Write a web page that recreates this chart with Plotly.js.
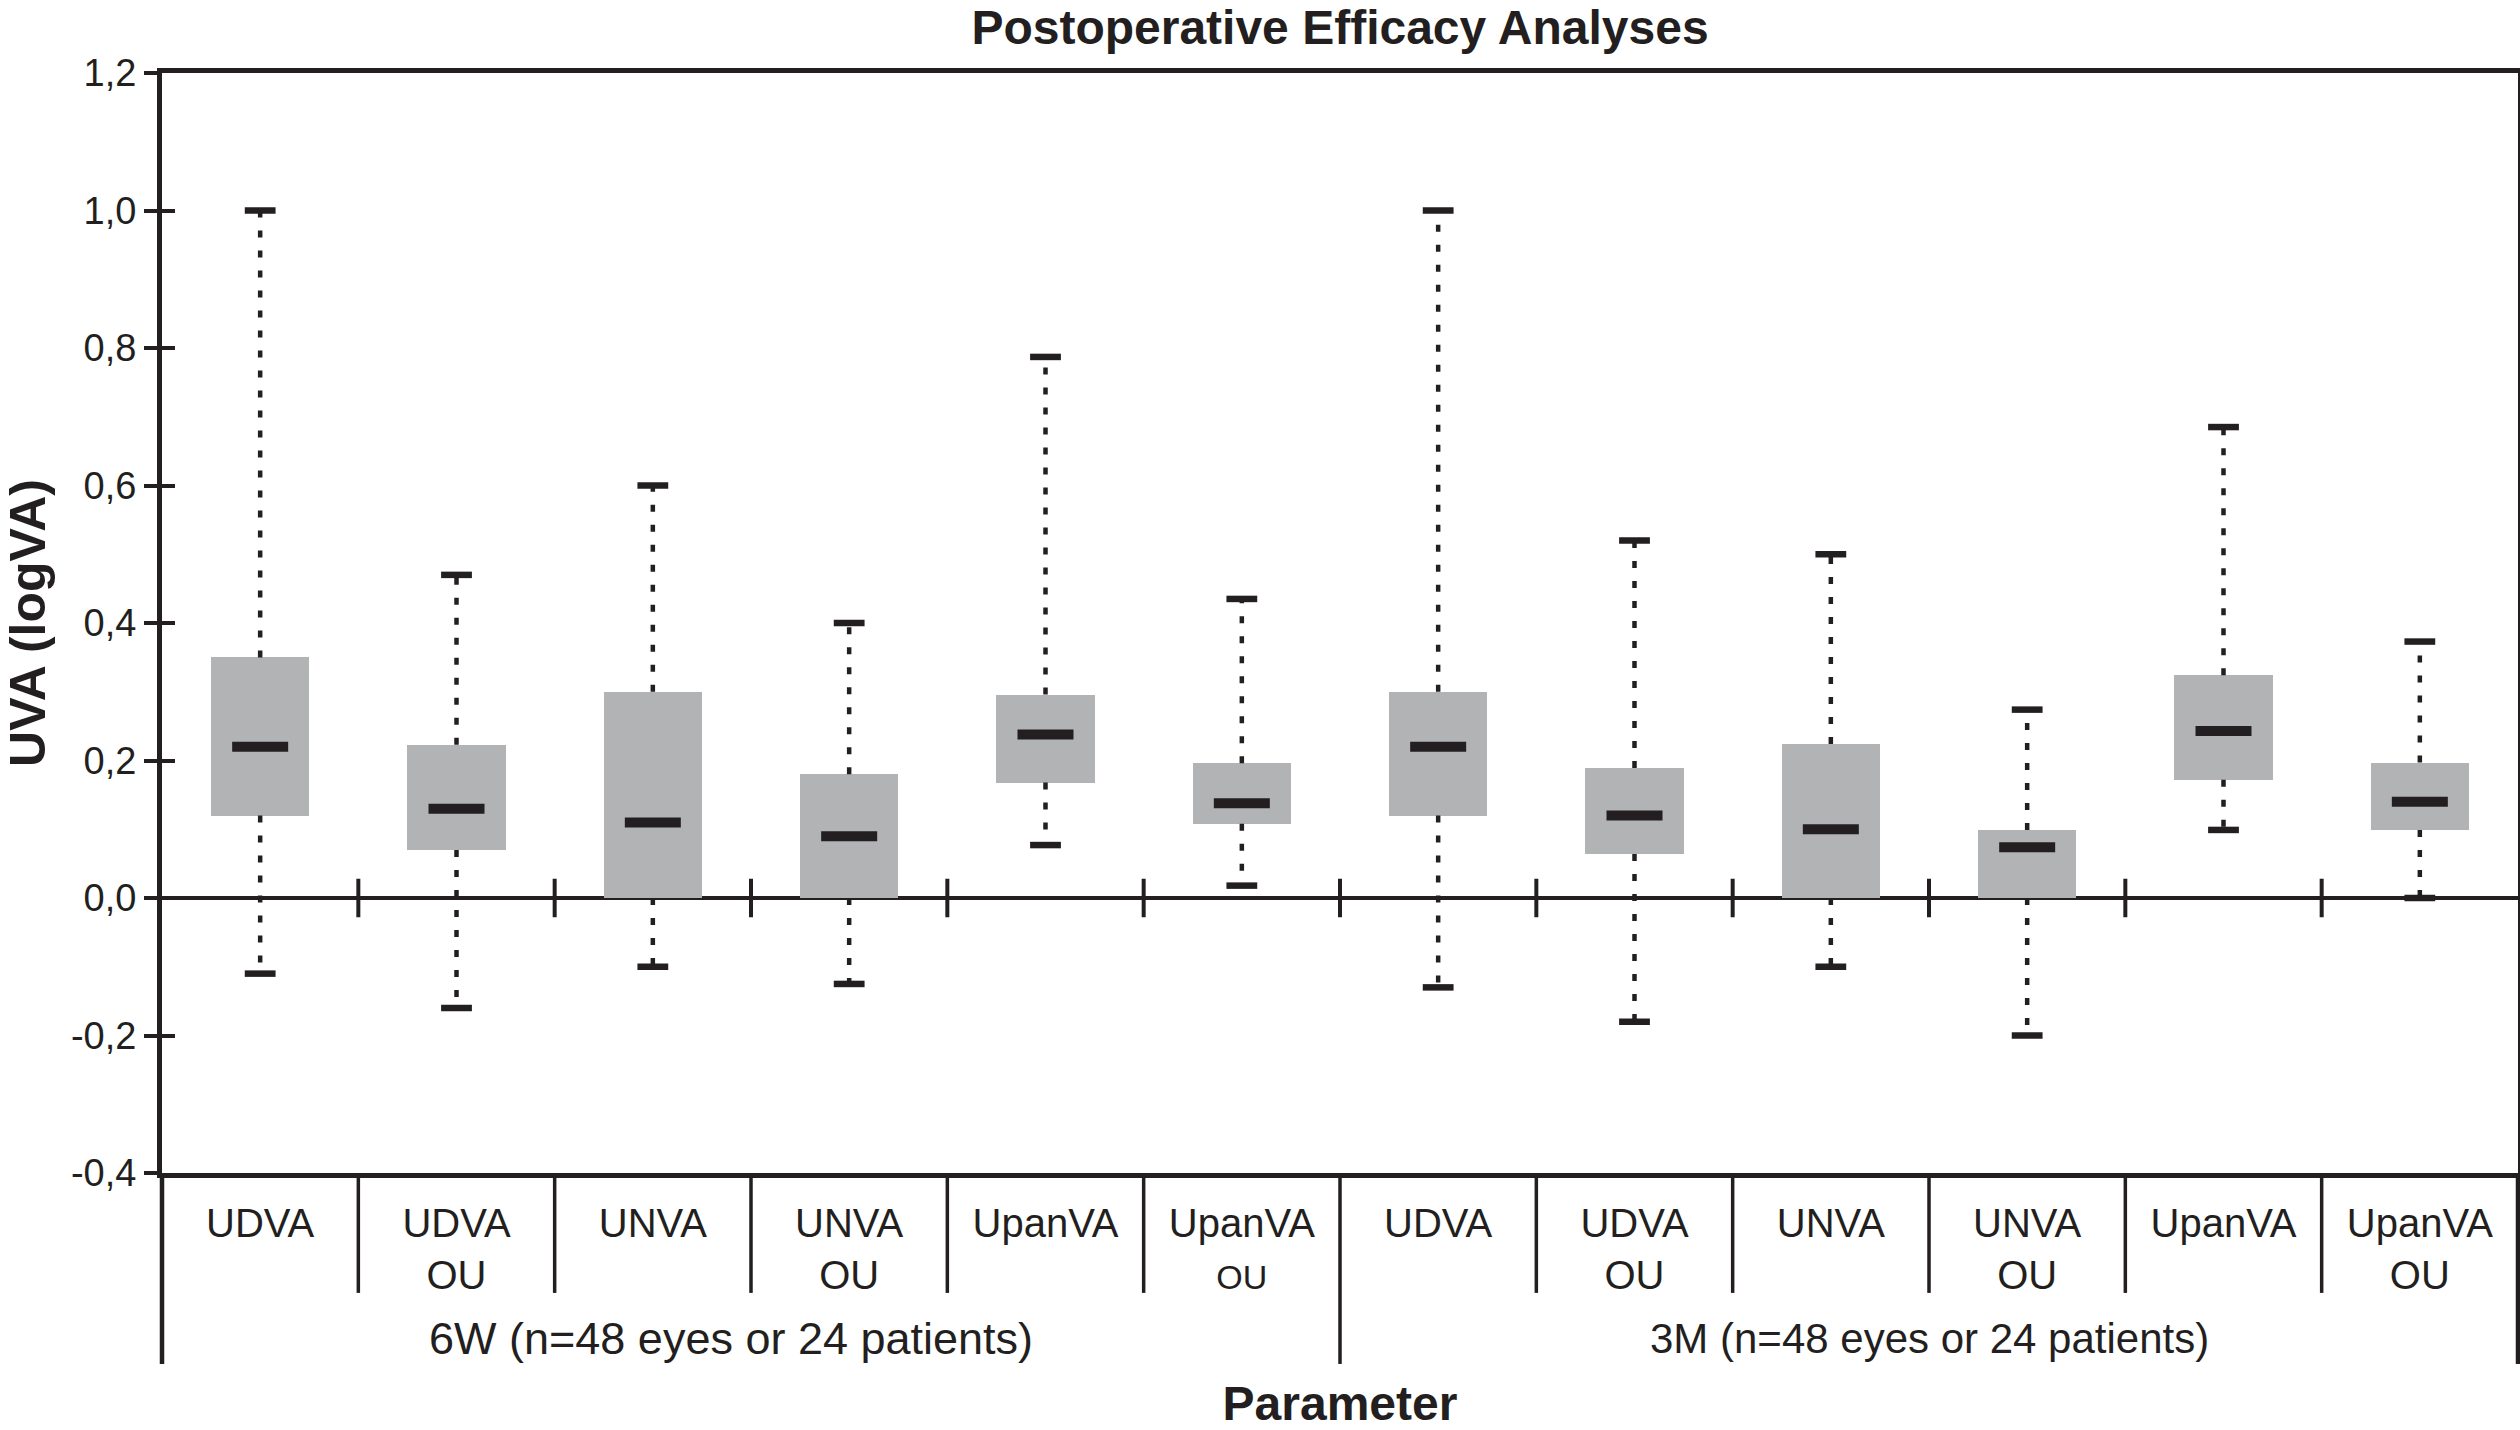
<!DOCTYPE html>
<html>
<head>
<meta charset="utf-8">
<script src="https://cdn.plot.ly/plotly-3.0.1.min.js"></script>
<style>html,body{margin:0;padding:0;background:#fff;}#chart{width:2520px;height:1430px;}</style>
</head>
<body>
<div id="chart"></div>
<script>
// ---- Data ----
const categories = ["UDVA", "UDVA<br>OU", "UNVA", "UNVA<br>OU", "UpanVA", "UpanVA<br><span style='font-size:34px'>OU</span>",
                    "UDVA", "UDVA<br>OU", "UNVA", "UNVA<br>OU", "UpanVA", "UpanVA<br>OU"];
const groups = ["6W (n=48 eyes or 24 patients)", "3M (n=48 eyes or 24 patients)"];
const minVals = [-0.11, -0.16, -0.10, -0.125, 0.077, 0.018, -0.13, -0.18, -0.10, -0.20, 0.099, 0.000];
const q1Vals  = [ 0.12,  0.07,  0.00,  0.00,  0.168, 0.108,  0.12,  0.064, 0.00,  0.00,  0.172, 0.099];
const medVals = [ 0.22,  0.13,  0.11,  0.09,  0.238, 0.138,  0.22,  0.12,  0.10,  0.074, 0.243, 0.140];
const q3Vals  = [ 0.35,  0.223, 0.30,  0.18,  0.296, 0.196,  0.30,  0.189, 0.224, 0.099, 0.324, 0.197];
const maxVals = [ 1.00,  0.47,  0.60,  0.40,  0.787, 0.435,  1.00,  0.52,  0.50,  0.274, 0.685, 0.373];
const yTickVals = [-0.4, -0.2, 0, 0.2, 0.4, 0.6, 0.8, 1.0, 1.2];
const yTickText = ["-0,4", "-0,2", "0,0", "0,2", "0,4", "0,6", "0,8", "1,0", "1,2"];

// ---- Build traces ----
const INK = '#231f20';
const GREY = '#b1b3b5';
const FONT = 'Liberation Sans, Arial, Helvetica, sans-serif';
const n = categories.length;
const xs = categories.map((c, i) => i);

const boxTrace = {
  type: 'bar', x: xs, base: q1Vals, y: q3Vals.map((v, i) => v - q1Vals[i]),
  width: 0.5, marker: {color: GREY, line: {width: 0}}, hoverinfo: 'skip', showlegend: false
};

const wx = [], wy = [];
for (let i = 0; i < n; i++) {
  wx.push(i, i, null, i, i, null);
  wy.push(q3Vals[i], maxVals[i], null, q1Vals[i], minVals[i], null);
}
const whiskerTrace = {
  type: 'scatter', mode: 'lines', x: wx, y: wy, connectgaps: false,
  line: {color: INK, width: 4.5, dash: '7px,13px'}, hoverinfo: 'skip', showlegend: false
};

const capTrace = {
  type: 'scatter', mode: 'markers', yaxis: 'y2',
  x: xs.concat(xs), y: maxVals.concat(minVals),
  marker: {symbol: 'line-ew', size: 22, color: INK, line: {color: INK, width: 6.5}},
  hoverinfo: 'skip', showlegend: false
};

const medTrace = {
  type: 'scatter', mode: 'markers', x: xs, y: medVals,
  marker: {symbol: 'line-ew', size: 40, color: INK, line: {color: INK, width: 10}},
  hoverinfo: 'skip', showlegend: false
};

// ---- Decorations (category dividers below axis, ticks on zero line) ----
const shapes = [];
for (let i = 1; i < n; i++) {
  const isGroup = (i === n / 2);
  shapes.push({type: 'line', xref: 'paper', yref: 'paper', x0: i / n, x1: i / n, y0: 0, y1: isGroup ? -0.1736 : -0.109,
               line: {color: INK, width: 3.5}});
  shapes.push({type: 'line', xref: 'paper', yref: 'y', x0: i / n, x1: i / n, y0: -0.028, y1: 0.028,
               line: {color: INK, width: 4}});
}
[0, 1].forEach(px => shapes.push({type: 'line', xref: 'paper', yref: 'paper', x0: px, x1: px, y0: 0, y1: -0.1736,
                                    line: {color: INK, width: 4.5}}));

const annotations = groups.map((g, gi) => ({
  xref: 'x', yref: 'paper', x: gi * (n / 2) + (n / 2 - 1) / 2, y: -0.150, yanchor: 'middle', xanchor: 'center',
  xshift: gi === 0 ? -20 : 0,
  text: g, showarrow: false, font: {family: FONT, size: gi === 0 ? 45 : 42, color: INK}
}));

const layout = {
  width: 2520, height: 1430,
  margin: {l: 162, r: 2, t: 73, b: 257},
  paper_bgcolor: '#fff', plot_bgcolor: '#fff',
  showlegend: false,
  bargap: 0,
  title: {text: 'Postoperative Efficacy Analyses', x: 0.5, xref: 'paper', xanchor: 'center',
          y: 0.981, yref: 'container', yanchor: 'middle',
          font: {family: FONT, size: 48, color: INK, weight: 'bold'}},
  xaxis: {
    range: [-0.5, n - 0.5], tickvals: xs, ticktext: categories, ticks: '',
    showline: true, linewidth: 5, linecolor: INK, mirror: true, showgrid: false, zeroline: false,
    tickfont: {family: FONT, size: 40, color: INK}, ticklabelstandoff: 11,
    title: {text: '<b>Parameter</b>', standoff: 92, font: {family: FONT, size: 48, color: INK}},
    automargin: false, fixedrange: true
  },
  yaxis: {
    range: [-0.4, 1.2], tickvals: yTickVals, ticktext: yTickText, ticks: 'outside', ticklen: 13, tickwidth: 4, tickcolor: INK,
    showline: true, linewidth: 5, linecolor: INK, mirror: true, showgrid: false,
    zeroline: true, zerolinewidth: 4, zerolinecolor: INK,
    tickfont: {family: FONT, size: 38, color: INK},
    title: {text: '<b>UVA (logVA)</b>', standoff: 20, font: {family: FONT, size: 50, color: INK}},
    automargin: false, fixedrange: true
  },
  yaxis2: {
    overlaying: 'y', side: 'left', range: [-0.4, 1.2], tickvals: yTickVals, ticks: 'inside', ticklen: 13, tickwidth: 4,
    tickcolor: INK, showticklabels: false, showgrid: false, zeroline: false, showline: false, fixedrange: true
  },
  shapes: shapes,
  annotations: annotations
};

Plotly.newPlot('chart', [boxTrace, whiskerTrace, medTrace, capTrace], layout, {staticPlot: true, displayModeBar: false});
</script>
</body>
</html>
